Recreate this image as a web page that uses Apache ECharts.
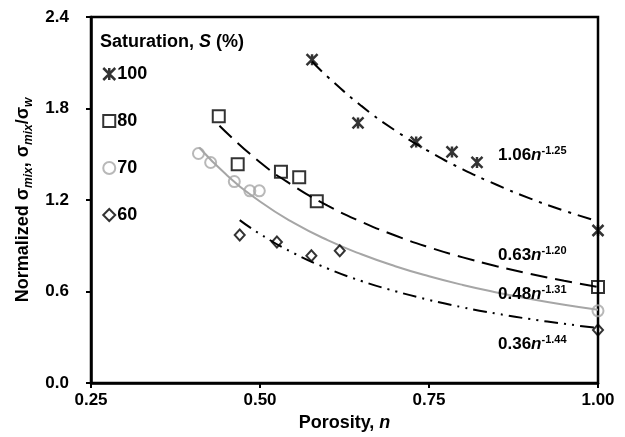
<!DOCTYPE html>
<html>
<head>
<meta charset="utf-8">
<script src="https://cdn.jsdelivr.net/npm/echarts@6/dist/echarts.min.js"></script>
<style>html,body{margin:0;padding:0;background:#fff}#c{width:625px;height:437px}</style>
</head>
<body>
<div id="c"></div>
<script>
// ---- data ----
const xTicks = [0.25, 0.50, 0.75, 1.00];
const yTicks = [0.0, 0.6, 1.2, 1.8, 2.4];
const seriesNames = ['100', '80', '70', '60'];

const pts100 = [[0.577, 2.12], [0.645, 1.705], [0.731, 1.58], [0.784, 1.515], [0.821, 1.446], [1.00, 1.00]];
const pts80  = [[0.439, 1.749], [0.467, 1.435], [0.531, 1.386], [0.558, 1.349], [0.584, 1.191], [1.00, 0.629]];
const pts70  = [[0.409, 1.505], [0.427, 1.446], [0.462, 1.321], [0.485, 1.26], [0.499, 1.26], [1.00, 0.473]];
const pts60  = [[0.470, 0.971], [0.525, 0.925], [0.576, 0.835], [0.618, 0.867], [1.00, 0.348]];

// fitted trend curves
const fit100 = [[0.577, 2.108], [0.60, 2.008], [0.65, 1.817], [0.70, 1.656], [0.75, 1.519], [0.80, 1.401], [0.85, 1.300], [0.90, 1.209], [0.95, 1.130], [1.00, 1.06]];
const fit80  = [[0.44, 1.687], [0.50, 1.447], [0.55, 1.291], [0.60, 1.163], [0.65, 1.057], [0.70, 0.967], [0.75, 0.890], [0.80, 0.824], [0.85, 0.766], [0.90, 0.715], [0.95, 0.670], [1.00, 0.63]];
const fit70  = [[0.41, 1.544], [0.45, 1.367], [0.50, 1.190], [0.55, 1.050], [0.60, 0.937], [0.65, 0.844], [0.70, 0.766], [0.75, 0.700], [0.80, 0.643], [0.85, 0.594], [0.90, 0.551], [0.95, 0.513], [1.00, 0.48]];
const fit60  = [[0.47, 1.068], [0.50, 0.977], [0.55, 0.851], [0.60, 0.751], [0.65, 0.669], [0.70, 0.602], [0.75, 0.545], [0.80, 0.496], [0.85, 0.455], [0.90, 0.419], [0.95, 0.388], [1.00, 0.36]];

const eqCoef = ['1.06', '0.63', '0.48', '0.36'];
const eqExp  = ['-1.25', '-1.20', '-1.31', '-1.44'];

// ---- styling ----
const FONT = '"Liberation Sans", Arial, sans-serif';
const GRAY = '#a6a6a6';
const ASTER = 'path://M0,0L10,10M10,0L0,10M5,0L5,10';
const markerStyle = (c, w) => ({ color: 'rgba(0,0,0,0)', borderColor: c, borderWidth: w || 2 });

const chart = echarts.init(document.getElementById('c'), null, { renderer: 'canvas' });

const eqY = [155, 255, 294, 344];
const eqRich = {
  a: { fontFamily: FONT, fontWeight: 'bold', fontSize: 17, color: '#000', lineHeight: 20 },
  i: { fontFamily: FONT, fontWeight: 'bold', fontStyle: 'italic', fontSize: 17, color: '#000', lineHeight: 20 },
  s: { fontFamily: FONT, fontWeight: 'bold', fontSize: 11, color: '#000', verticalAlign: 'top', lineHeight: 12 }
};

const option = {
  animation: false,
  backgroundColor: '#fff',
  grid: { left: 91, right: 27, top: 17, bottom: 50, show: true, borderColor: '#000', borderWidth: 2.5, containLabel: false },
  title: {
    text: '{b|Saturation, }{bi|S}{b| (%)}',
    left: 100, top: 33, padding: 0,
    textStyle: {
      rich: {
        b: { fontFamily: FONT, fontWeight: 'bold', fontSize: 18, color: '#000' },
        bi: { fontFamily: FONT, fontWeight: 'bold', fontStyle: 'italic', fontSize: 18, color: '#000' }
      }
    }
  },
  legend: {
    orient: 'vertical', left: 102, top: 65, padding: 0,
    itemWidth: 12, itemHeight: 12, itemGap: 29,
    textStyle: { fontFamily: FONT, fontWeight: 'bold', fontSize: 18, color: '#000', padding: [0, 0, 0, -3] },
    data: [
      { name: seriesNames[0], icon: ASTER, itemStyle: markerStyle('#000', 2.5) },
      { name: seriesNames[1], icon: 'rect', itemStyle: markerStyle('#000') },
      { name: seriesNames[2], icon: 'circle', itemStyle: markerStyle(GRAY) },
      { name: seriesNames[3], icon: 'diamond', itemStyle: markerStyle('#000') }
    ]
  },
  xAxis: {
    type: 'value', min: 0.25, max: 1.0, interval: 0.25,
    name: '{b|Porosity, }{bi|n}', nameLocation: 'middle', nameGap: 31,
    nameTextStyle: {
      rich: {
        b: { fontFamily: FONT, fontWeight: 'bold', fontSize: 18, color: '#000' },
        bi: { fontFamily: FONT, fontWeight: 'bold', fontStyle: 'italic', fontSize: 18, color: '#000' }
      }
    },
    axisLine: { show: true, onZero: false, lineStyle: { color: '#000', width: 2.5 } },
    axisTick: { show: true, inside: false, length: 5, lineStyle: { color: '#000', width: 2 } },
    axisLabel: { margin: 9, fontFamily: FONT, fontWeight: 'bold', fontSize: 17, color: '#000',
      formatter: (v) => v.toFixed(2) },
    splitLine: { show: false }
  },
  yAxis: {
    type: 'value', min: 0, max: 2.4, interval: 0.6,
    name: '{b|Normalized σ}{sub|mix}{b|, σ}{sub|mix}{b|/σ}{sub|w}',
    nameLocation: 'middle', nameGap: 56, nameRotate: 90,
    nameTextStyle: {
      rich: {
        b: { fontFamily: FONT, fontWeight: 'bold', fontSize: 18, color: '#000', lineHeight: 22 },
        sub: { fontFamily: FONT, fontWeight: 'bold', fontStyle: 'italic', fontSize: 12, color: '#000', verticalAlign: 'bottom', lineHeight: 12 }
      }
    },
    axisLine: { show: true, onZero: false, lineStyle: { color: '#000', width: 2.5 } },
    axisTick: { show: true, inside: false, length: 5, lineStyle: { color: '#000', width: 2 } },
    axisLabel: { margin: 22, fontFamily: FONT, fontWeight: 'bold', fontSize: 17, color: '#000',
      formatter: (v) => v.toFixed(1) },
    splitLine: { show: false }
  },
  graphic: eqCoef.map((c, k) => ({
    type: 'text', x: 498, y: eqY[k], z: 100,
    style: { text: '{a|' + c + '}{i|n}{s|' + eqExp[k] + '}', rich: eqRich, verticalAlign: 'middle', align: 'left' }
  })),
  series: [
    { name: 'fit100', type: 'line', data: fit100, smooth: true, showSymbol: false, silent: true, z: 2,
      lineStyle: { color: '#000', width: 2, type: [14, 7, 3, 7] } },
    { name: 'fit80', type: 'line', data: fit80, smooth: true, showSymbol: false, silent: true, z: 2,
      lineStyle: { color: '#000', width: 2, type: [17, 8] } },
    { name: 'fit70', type: 'line', data: fit70, smooth: true, showSymbol: false, silent: true, z: 2,
      lineStyle: { color: GRAY, width: 2, type: 'solid' } },
    { name: 'fit60', type: 'line', data: fit60, smooth: true, showSymbol: false, silent: true, z: 2,
      lineStyle: { color: '#000', width: 2, type: [14, 6, 2, 6, 2, 6] } },
    { name: seriesNames[0], type: 'scatter', data: pts100, symbol: ASTER, symbolSize: 11, z: 5, itemStyle: markerStyle('#000', 2.5) },
    { name: seriesNames[1], type: 'scatter', data: pts80, symbol: 'rect', symbolSize: 12, z: 5, itemStyle: markerStyle('#000') },
    { name: seriesNames[2], type: 'scatter', data: pts70, symbol: 'circle', symbolSize: 11, z: 5, itemStyle: markerStyle(GRAY) },
    { name: seriesNames[3], type: 'scatter', data: pts60, symbol: 'diamond', symbolSize: [10, 11], z: 5, itemStyle: markerStyle('#000') }
  ]
};
chart.setOption(option);
</script>
</body>
</html>
